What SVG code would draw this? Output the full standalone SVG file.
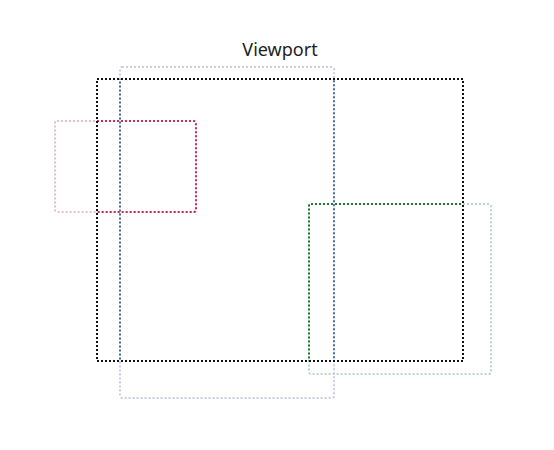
<svg xmlns="http://www.w3.org/2000/svg" width="554" height="450" viewBox="0 0 554 450">
<style>
.r{fill:none;stroke-width:2;stroke-dasharray:2 2}
.title{font-family:"Noto Sans","Open Sans",sans-serif;font-size:18px;fill:#222}
</style>
<defs>
<clipPath id="vp"><rect x="97" y="79" width="366" height="282"/></clipPath>
</defs>
<rect width="554" height="450" fill="#fff"/>
<text class="title" x="280" y="56" text-anchor="middle">Viewport</text>
<g id="blue">
<rect class="r" x="120" y="67" width="214" height="331" rx="2" stroke="#c9cde6"/>
<rect class="r" x="120" y="67" width="214" height="331" rx="2" stroke="#4e72a8" clip-path="url(#vp)"/>
</g>
<g id="red">
<rect class="r" x="55" y="121" width="141" height="91" rx="2" stroke="#ebbccb"/>
<rect class="r" x="55" y="121" width="141" height="91" rx="2" stroke="#c0305a" clip-path="url(#vp)"/>
</g>
<g id="green">
<rect class="r" x="309" y="204" width="182" height="170" rx="2" stroke="#bcd3cb"/>
<rect class="r" x="309" y="204" width="182" height="170" rx="2" stroke="#1c7a30" clip-path="url(#vp)"/>
</g>
<g id="viewport">
<rect class="r" x="97" y="79" width="366" height="282" stroke="#111"/>
</g>
<g id="connectors"/>
</svg>
